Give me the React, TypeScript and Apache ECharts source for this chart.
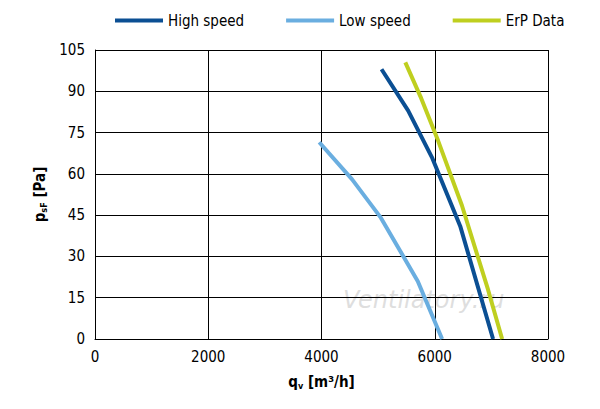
import React, { useEffect, useRef } from "react";
import * as echarts from "echarts";

const highSpeed = [[5060, 98], [5530, 83], [5950, 66], [6450, 41], [7030, 0]];
const lowSpeed = [[3960, 71.5], [4540, 58], [5050, 44], [5700, 21], [6130, 0]];
const erpData = [[5480, 100.5], [5760, 87.5], [6060, 72], [6480, 48.5], [6940, 18], [7190, 0]];
const FONT = "'DejaVu Sans Condensed', 'Liberation Sans Narrow', sans-serif";

export default function App() {
  const ref = useRef<HTMLDivElement>(null);
  useEffect(() => {
    const chart = echarts.init(ref.current!, null, { renderer: "svg" });
    const mk = (name: string, data: number[][], color: string) => ({
      name, type: "line", data, symbol: "none", smooth: false,
      lineStyle: { width: 4, color }, itemStyle: { color },
    });
    chart.setOption({
      animation: false,
      textStyle: { fontFamily: FONT },
      legend: {
        top: 8, left: 110, itemWidth: 48, itemHeight: 4, itemGap: 42,
        textStyle: { fontSize: 15, color: "#000", fontFamily: FONT },
        icon: "rect",
        data: ["High speed", "Low speed", "ErP Data"],
      },
      grid: { left: 95, right: 52, top: 50, bottom: 70 },
      graphic: [{
        type: "text", left: 343, top: 288,
        style: { text: "Ventilatory.ru", fontSize: 24, fontStyle: "italic", fill: "rgba(200,200,200,0.6)", fontFamily: "DejaVu Sans, sans-serif" },
      }],
      xAxis: {
        type: "value", min: 0, max: 8000, interval: 2000,
        name: "{a|q}{s|v}{a| [m³/h]}", nameLocation: "middle", nameGap: 34,
        nameTextStyle: { rich: { a: { fontSize: 15, fontWeight: "bold", fontFamily: FONT }, s: { fontSize: 9, fontWeight: "bold", padding: [8, 0, 0, 0], fontFamily: FONT } } },
        axisLine: { lineStyle: { color: "#000" } }, axisTick: { show: false },
        axisLabel: { fontSize: 15, color: "#000", margin: 10, formatter: (v: number) => String(v) },
        splitLine: { lineStyle: { color: "#000" } },
      },
      yAxis: {
        type: "value", min: 0, max: 105, interval: 15,
        name: "{a|p}{s|sF}{a| [Pa]}", nameLocation: "middle", nameGap: 44,
        nameTextStyle: { rich: { a: { fontSize: 15, fontWeight: "bold", fontFamily: FONT }, s: { fontSize: 9, fontWeight: "bold", padding: [8, 0, 0, 0], fontFamily: FONT } } },
        axisLine: { show: true, lineStyle: { color: "#000" } }, axisTick: { show: false },
        axisLabel: { fontSize: 15, color: "#000", margin: 10 },
        splitLine: { lineStyle: { color: "#000" } },
      },
      series: [
        mk("High speed", highSpeed, "#0b4f93"),
        mk("Low speed", lowSpeed, "#6aaee0"),
        mk("ErP Data", erpData, "#bfcf1f"),
      ],
    });
    return () => chart.dispose();
  }, []);
  return <div ref={ref} style={{ width: 600, height: 409, margin: -8 }} />;
}
